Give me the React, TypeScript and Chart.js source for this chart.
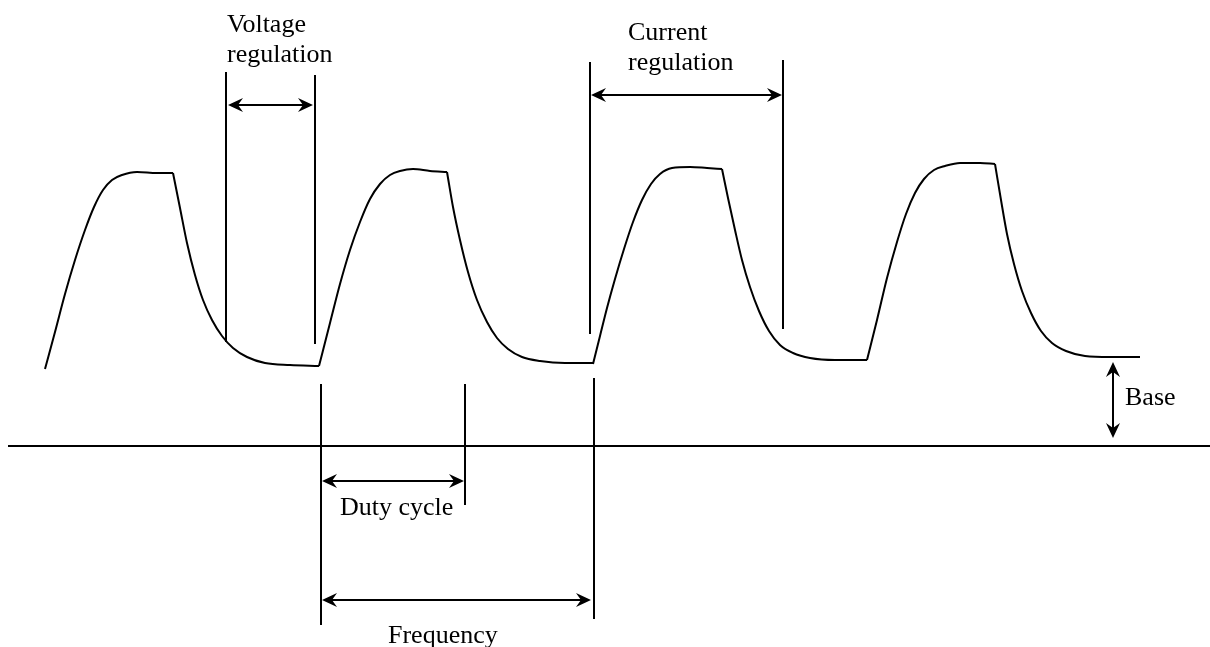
import React, { useEffect, useRef } from "react";
import { Chart, registerables } from "chart.js";

Chart.register(...registerables);

// Waveform (time units, amplitude units above the zero line), one rise + one fall per pulse
const riseTimes: number[][] = [
  [45, 55, 65, 75, 85, 94, 103, 112, 122, 137, 157, 173],
  [319, 330, 340, 350, 360, 370, 380, 390, 400, 413, 430, 447],
  [593, 600, 607, 615, 624, 633, 642, 651, 660, 672, 690, 707, 722],
  [867, 877, 887, 897, 906, 915, 924, 934, 945, 960, 980, 995],
];
const riseAmps: number[][] = [
  [77, 114, 152, 186, 216, 239, 256, 266, 271, 274, 273, 273],
  [80, 123, 162, 196, 224, 247, 262, 271, 275, 277, 275, 274],
  [82, 110, 138, 167, 197, 224, 246, 262, 272, 278, 279, 278, 277],
  [86, 126, 168, 204, 232, 253, 267, 276, 280, 283, 283, 282],
];
const fallTimes: number[][] = [
  [173, 180, 187, 195, 203, 212, 222, 233, 247, 265, 290, 319],
  [447, 453, 460, 468, 477, 487, 497, 508, 522, 540, 565, 593],
  [722, 728, 735, 742, 750, 759, 769, 780, 793, 810, 835, 867],
  [995, 1001, 1007, 1014, 1022, 1031, 1041, 1052, 1066, 1085, 1110, 1140],
];
const fallAmps: number[][] = [
  [273, 238, 203, 171, 146, 126, 110, 98, 89, 83, 81, 80],
  [274, 239, 206, 174, 146, 124, 108, 97, 89, 85, 83, 83],
  [277, 248, 216, 186, 159, 135, 115, 101, 93, 88, 86, 86],
  [282, 246, 212, 182, 155, 133, 115, 103, 95, 90, 89, 89],
];

// Zero (time) axis
const axisStart = 8;
const axisEnd = 1210;

// Vertical marker lines: time, low amplitude, high amplitude
const markerTimes = [226, 315, 590, 783, 321, 465, 594];
const markerLows = [104, 102, 112, 117, -179, -59, -173];
const markerHighs = [374, 371, 384, 386, 62, 62, 68];

// Horizontal double arrows: from, to, amplitude
const arrowFrom = [228, 591, 322, 322];
const arrowTo = [313, 782, 464, 591];
const arrowLevel = [341, 351, -35, -154];

// Base double arrow (vertical)
const baseArrowTime = 1113;
const baseArrowLow = 8;
const baseArrowHigh = 84;

// Labels
const labelTexts = ["Voltage", "regulation", "Current", "regulation", "Duty cycle", "Frequency", "Base"];
const labelTimes = [227, 227, 628, 628, 340, 388, 1125];
const labelLevels = [414, 384, 406, 376, -69, -197, 41];

const X_MIN = 0;
const X_MAX = 1210;
const Y_MIN = -201;
const Y_MAX = 446;

function arrowHead(ctx: CanvasRenderingContext2D, x: number, y: number, angle: number) {
  const len = 15;
  const half = 7;
  const notch = 10;
  ctx.save();
  ctx.translate(x, y);
  ctx.rotate(angle);
  ctx.beginPath();
  ctx.moveTo(0, 0);
  ctx.lineTo(-len, -half);
  ctx.lineTo(-notch, 0);
  ctx.lineTo(-len, half);
  ctx.closePath();
  ctx.fill();
  ctx.restore();
}

const diagramPlugin = {
  id: "diagram",
  afterDatasetsDraw(chart: any) {
    const ctx: CanvasRenderingContext2D = chart.ctx;
    const xs = chart.scales.x;
    const ys = chart.scales.y;
    const px = (v: number) => xs.getPixelForValue(v);
    const py = (v: number) => ys.getPixelForValue(v);
    ctx.save();
    ctx.strokeStyle = "#000";
    ctx.fillStyle = "#000";
    ctx.lineWidth = 2;
    ctx.lineCap = "butt";

    // zero axis
    ctx.beginPath();
    ctx.moveTo(px(axisStart), py(0));
    ctx.lineTo(px(axisEnd), py(0));
    ctx.stroke();

    // markers
    markerTimes.forEach((t, i) => {
      ctx.beginPath();
      ctx.moveTo(px(t), py(markerHighs[i]));
      ctx.lineTo(px(t), py(markerLows[i]));
      ctx.stroke();
    });

    // horizontal arrows
    arrowFrom.forEach((f, i) => {
      const x1 = px(f);
      const x2 = px(arrowTo[i]);
      const y = py(arrowLevel[i]);
      ctx.beginPath();
      ctx.moveTo(x1 + 8, y);
      ctx.lineTo(x2 - 8, y);
      ctx.stroke();
      arrowHead(ctx, x2, y, 0);
      arrowHead(ctx, x1, y, Math.PI);
    });

    // base arrow
    {
      const x = px(baseArrowTime);
      const yTop = py(baseArrowHigh);
      const yBot = py(baseArrowLow);
      ctx.beginPath();
      ctx.moveTo(x, yTop + 8);
      ctx.lineTo(x, yBot - 8);
      ctx.stroke();
      arrowHead(ctx, x, yTop, -Math.PI / 2);
      arrowHead(ctx, x, yBot, Math.PI / 2);
    }

    // labels
    ctx.font = '26px "Liberation Serif", "Times New Roman", serif';
    ctx.textAlign = "left";
    ctx.textBaseline = "alphabetic";
    labelTexts.forEach((txt, i) => {
      ctx.fillText(txt, px(labelTimes[i]), py(labelLevels[i]));
    });
    ctx.restore();
  },
};

export default function App() {
  const canvasRef = useRef<HTMLCanvasElement | null>(null);

  useEffect(() => {
    const canvas = canvasRef.current;
    if (!canvas) return;
    const datasets: any[] = [];
    const segs: [number[], number[]][] = [];
    riseTimes.forEach((t, i) => {
      segs.push([t, riseAmps[i]]);
      segs.push([fallTimes[i], fallAmps[i]]);
    });
    segs.forEach(([t, a]) => {
      datasets.push({
        data: t.map((x, j) => ({ x, y: a[j] })),
        borderColor: "#000",
        borderWidth: 2,
        pointRadius: 0,
        fill: false,
        cubicInterpolationMode: "monotone",
      });
    });

    const chart = new Chart(canvas, {
      type: "line",
      data: { datasets },
      options: {
        animation: false,
        responsive: false,
        devicePixelRatio: 1,
        layout: { padding: 0 },
        plugins: { legend: { display: false }, tooltip: { enabled: false } },
        scales: {
          x: { type: "linear", min: X_MIN, max: X_MAX, display: false },
          y: { type: "linear", min: Y_MIN, max: Y_MAX, display: false },
        },
      },
      plugins: [diagramPlugin],
    });
    return () => chart.destroy();
  }, []);

  return (
    <div style={{ position: "fixed", left: 0, top: 0, width: 1210, height: 647, background: "#fff" }}>
      <canvas ref={canvasRef} width={1210} height={647} style={{ display: "block" }} />
    </div>
  );
}
